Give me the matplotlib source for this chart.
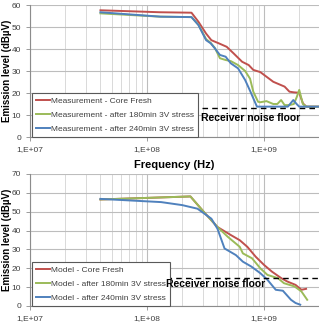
import matplotlib
matplotlib.use("Agg")
import matplotlib.pyplot as plt
from matplotlib.ticker import FixedLocator, NullFormatter, LogLocator
import numpy as np

plt.rcParams['font.family'] = ['Liberation Sans', 'DejaVu Sans']

# ---------------- data ----------------
# Top panel (measurement)
meas_red_f = [4.0e7, 1.3e8, 2.4e8, 2.75e8, 3.2e8, 3.55e8, 4.1e8, 4.8e8, 5.5e8, 6.5e8, 7.4e8, 8.1e8, 9.3e8,
              1.2e9, 1.5e9, 1.65e9, 1.8e9, 2.0e9, 2.15e9, 2.3e9, 2.95e9]
meas_red_v = [57.6, 56.7, 56.5, 52.4, 47.0, 44.0, 42.6, 41.0, 38.0, 34.2, 32.7, 30.5, 29.5,
              25.1, 22.9, 20.6, 20.3, 20.1, 15.3, 13.8, 13.8]

meas_green_f = [4.0e7, 1.3e8, 2.4e8, 2.75e8, 3.2e8, 3.5e8, 3.8e8, 4.2e8, 4.7e8, 5.2e8, 6.0e8, 6.9e8, 7.6e8,
                8.1e8, 8.9e8, 9.3e8, 1.05e9, 1.2e9, 1.3e9, 1.4e9, 1.5e9, 1.65e9, 1.8e9, 1.9e9, 2.0e9,
                2.1e9, 2.15e9, 2.3e9, 2.95e9]
meas_green_v = [56.2, 54.7, 54.5, 51.0, 44.5, 42.8, 40.5, 35.8, 35.0, 34.5, 32.7, 30.0, 26.5,
                20.6, 16.0, 15.8, 16.3, 15.0, 15.0, 16.8, 14.5, 14.5, 15.0, 18.0, 21.4,
                17.0, 15.0, 13.8, 13.8]

meas_blue_f = [4.0e7, 1.3e8, 2.4e8, 2.75e8, 3.2e8, 3.5e8, 3.8e8, 4.2e8, 4.7e8, 5.2e8, 6.0e8, 6.9e8, 7.6e8,
               8.7e8, 1.6e9, 1.78e9, 1.9e9, 2.0e9, 2.95e9]
meas_blue_v = [56.7, 54.7, 54.5, 50.9, 44.0, 42.6, 40.3, 37.3, 36.5, 33.5, 31.2, 25.9, 21.0,
               13.8, 13.8, 16.8, 15.0, 13.8, 13.8]

# Bottom panel (model)
model_red_f = [4.0e7, 2.35e8, 3.16e8, 4.0e8, 5.25e8, 6.2e8, 7.2e8, 8.5e8, 1.0e9, 1.17e9, 1.41e9, 1.58e9,
               1.86e9, 2.09e9, 2.29e9]
model_red_v = [56.5, 58.1, 48.9, 41.9, 37.5, 34.9, 31.4, 26.1, 21.8, 18.2, 14.7, 13.0, 11.2, 8.6, 9.1]

model_green_f = [4.0e7, 2.35e8, 3.16e8, 4.0e8, 4.9e8, 6.2e8, 6.6e8, 7.9e8, 9.3e8, 1.07e9, 1.32e9, 1.48e9,
                 1.82e9, 2.09e9, 2.34e9]
model_green_v = [56.5, 58.1, 48.9, 41.9, 36.7, 31.4, 27.9, 25.3, 20.0, 16.5, 14.7, 12.1, 10.4, 7.7, 3.3]

model_blue_f = [4.0e7, 1.32e8, 2.0e8, 2.7e8, 3.55e8, 4.0e8, 4.6e8, 5.75e8, 6.6e8, 7.8e8, 9.3e8, 1.07e9,
                1.26e9, 1.45e9, 1.7e9, 1.86e9, 2.04e9]
model_blue_v = [56.8, 55.1, 53.5, 51.6, 46.3, 41.0, 30.5, 27.0, 23.5, 20.9, 17.4, 13.9, 8.6, 8.1, 3.3, 1.6, 0.7]

noise_floor_top = 13.0
noise_floor_bottom = 14.7

top_labels = ["Measurement - Core Fresh", "Measurement - after 180min 3V stress",
              "Measurement - after 240min 3V stress"]
bottom_labels = ["Model - Core Fresh", "Model - after 180min 3V stress", "Model - after 240min 3V stress"]
xtick_vals = [1e7, 1e8, 1e9]
xtick_labels = ["1,E+07", "1,E+08", "1,E+09"]

colors = ['#c0504d', '#9bbb59', '#4f81bd']

# ---------------- figure ----------------
W, H = 319, 327
fig = plt.figure(figsize=(W / 100, H / 100), dpi=100)

xmax = 10 ** (7 + (319 - 30) / 117)

ax1 = fig.add_axes([30 / W, 1 - 137 / H, 1 - 30 / W, (137 - 5) / H])
ax2 = fig.add_axes([30 / W, 1 - 306 / H, 1 - 30 / W, (306 - 174) / H])


def style(ax, ymax):
    ax.set_xscale('log')
    ax.set_xlim(1e7, xmax)
    ax.set_ylim(0, ymax)
    ax.set_yticks(np.arange(0, ymax + 1, 10))
    ax.xaxis.set_major_locator(FixedLocator(xtick_vals))
    ax.set_xticklabels(xtick_labels)
    ax.xaxis.set_minor_locator(LogLocator(base=10, subs=np.arange(2, 10), numticks=20))
    ax.xaxis.set_minor_formatter(NullFormatter())
    ax.grid(True, which='major', color='#bdbdbd', linewidth=0.8)
    ax.grid(True, which='minor', axis='x', color='#d9d9d9', linewidth=0.7)
    ax.set_axisbelow(True)
    for s in ['top', 'right']:
        ax.spines[s].set_visible(False)
    for s in ['left', 'bottom']:
        ax.spines[s].set_color('#8c8c8c')
        ax.spines[s].set_linewidth(0.8)
    ax.tick_params(axis='both', which='major', labelsize=6, colors='#8c8c8c', labelcolor='#404040',
                   length=3, width=0.6)
    ax.tick_params(axis='x', which='minor', length=0)
    ax.set_xlabel("Frequency (Hz)", fontsize=8, fontweight='bold', labelpad=5)
    ax.set_ylabel("Emission level (dBµV)", fontsize=7, fontweight='bold', va='center')
    ax.yaxis.set_label_coords(-22.5 / 289, 0.5)


style(ax1, 60)
style(ax2, 70)

lw = 1.4
ax1.plot(meas_red_f, meas_red_v, color=colors[0], lw=lw, label=top_labels[0])
ax1.plot(meas_green_f, meas_green_v, color=colors[1], lw=lw, label=top_labels[1])
ax1.plot(meas_blue_f, meas_blue_v, color=colors[2], lw=lw, label=top_labels[2])
ax1.plot([10 ** 8.47, xmax], [noise_floor_top, noise_floor_top], color='black', lw=1.0,
         linestyle=(0, (4, 3)))
ax1.text(10 ** 8.46, noise_floor_top - 4.4, "Receiver noise floor", fontsize=7.5, fontweight='bold',
         va='center', ha='left', zorder=10)

ax2.plot(model_red_f, model_red_v, color=colors[0], lw=lw, label=bottom_labels[0])
ax2.plot(model_green_f, model_green_v, color=colors[1], lw=lw, label=bottom_labels[1])
ax2.plot(model_blue_f, model_blue_v, color=colors[2], lw=lw, label=bottom_labels[2])
ax2.plot([10 ** 8.16, xmax], [noise_floor_bottom, noise_floor_bottom], color='black', lw=1.0,
         linestyle=(0, (4, 3)))
ax2.text(10 ** 8.16, noise_floor_bottom - 3.0, "Receiver noise floor", fontsize=7.5, fontweight='bold',
         va='center', ha='left', zorder=10)

for ax in (ax1, ax2):
    leg = ax.legend(loc='lower left', bbox_to_anchor=(0.007, 0.0), borderaxespad=0, fontsize=6,
                    handlelength=1.6, handletextpad=0.2, labelspacing=0.75, borderpad=0.5,
                    fancybox=False, framealpha=1, edgecolor='#595959')
    leg.get_frame().set_linewidth(0.8)
    leg.set_zorder(5)
    for t in leg.get_texts():
        t.set_color('#404040')

fig.savefig("out.png", dpi=100)
